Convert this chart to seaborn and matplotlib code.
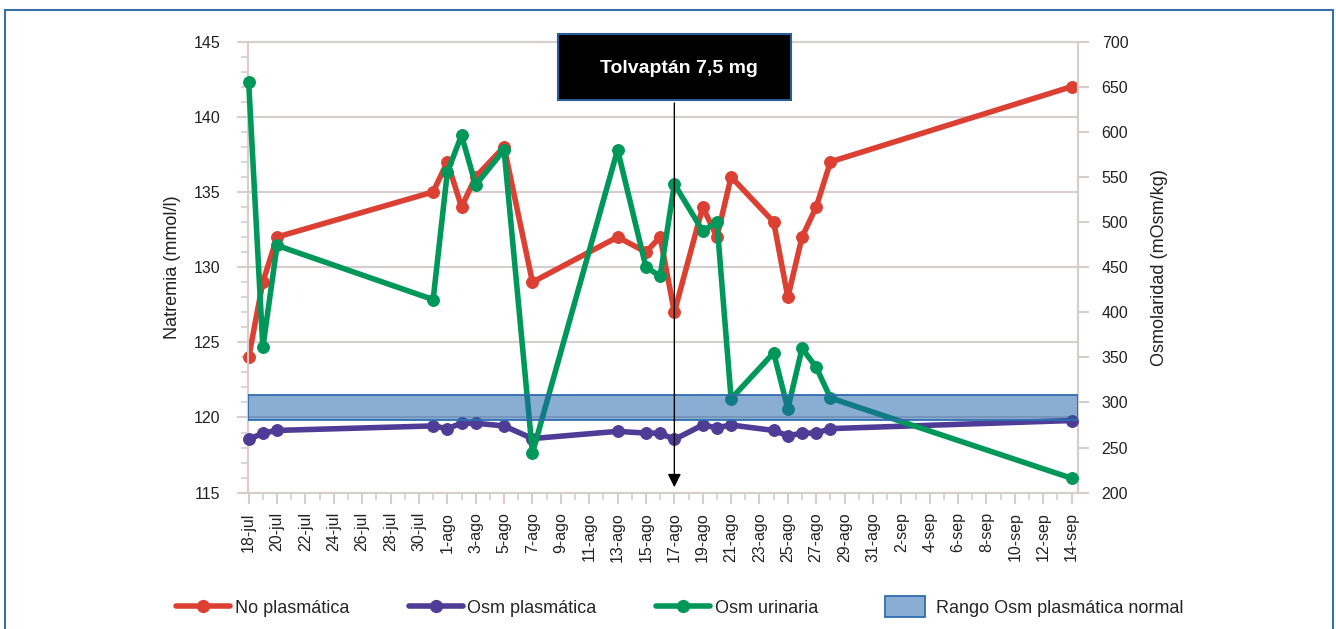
import matplotlib
matplotlib.use('Agg')
import matplotlib.pyplot as plt
import seaborn as sns
import numpy as np
import pandas as pd
from matplotlib.patches import Rectangle, Patch
from matplotlib.lines import Line2D
from matplotlib.legend_handler import HandlerPatch
from matplotlib.ticker import MultipleLocator

sns.set_style('white')
plt.rcParams['font.family'] = ['Liberation Sans', 'DejaVu Sans']

# datos
fechas = ['2015-07-18', '2015-07-19', '2015-07-20', '2015-07-31', '2015-08-01', '2015-08-02',
          '2015-08-03', '2015-08-05', '2015-08-07', '2015-08-13', '2015-08-15', '2015-08-16',
          '2015-08-17', '2015-08-19', '2015-08-20', '2015-08-21', '2015-08-24', '2015-08-25',
          '2015-08-26', '2015-08-27', '2015-08-28', '2015-09-14']
natremia = [124, 129, 132, 135, 137, 134, 136, 138, 129, 132, 131, 132, 127, 134, 132, 136,
            133, 128, 132, 134, 137, 142]
osm_plasma = [259, 266, 269, 274, 271, 277, 277, 274, 260, 268, 266, 266, 259, 275, 272, 275,
              269, 263, 266, 266, 271, 280]
osm_orina = [655, 361, 474, 414, 555, 596, 541, 580, 244, 580, 450, 440, 542, 490, 500, 304,
             355, 293, 360, 339, 305, 216]
rango_osm = [281, 308]
fecha_tolvaptan = '2015-08-17'
meses = {7: 'jul', 8: 'ago', 9: 'sep'}

rojo = '#dc4032'
morado = '#4f3c96'
verde = '#00975b'
gris = '#d6cdcd'
azul_rango = (0.12, 0.39, 0.67, 0.52)

fechas = pd.to_datetime(fechas)
inicio = fechas.min()
dias = np.array((fechas - inicio).days)
dia_tolva = (pd.Timestamp(fecha_tolvaptan) - inicio).days

fig = plt.figure(figsize=(13.36, 6.29), dpi=100)
ax = fig.add_axes([0.1856, 0.2167, 0.6213, 0.7173])
ax2 = ax.twinx()

#Natremia (eje izquierdo)
sns.lineplot(x=dias, y=natremia, ax=ax, color=rojo, marker='o', lw=4, markersize=8.5,
             markeredgecolor=rojo, clip_on=False, label='No plasmática')
#Osmolaridades (eje derecho)
sns.lineplot(x=dias, y=osm_plasma, ax=ax2, color=morado, marker='o', lw=4, markersize=8.5,
             markeredgecolor=morado, clip_on=False, label='Osm plasmática', zorder=3)
sns.lineplot(x=dias, y=osm_orina, ax=ax2, color=verde, marker='o', lw=4, markersize=8.5,
             markeredgecolor=verde, clip_on=False, label='Osm urinaria', zorder=3)
ax2.axhspan(rango_osm[0], rango_osm[1], facecolor=azul_rango,
            edgecolor='#2f6db0', lw=1.3, zorder=4)

for a in (ax, ax2):
    if a.get_legend() is not None:
        a.get_legend().remove()

# ejes
ax.set_xlim(-0.05, 58.45)
ax.set_ylim(115, 145)
ax2.set_ylim(200, 700)
ticks = pd.date_range(inicio, fechas.max(), freq='2D')
ax.set_xticks((ticks - inicio).days)
ax.set_xticklabels([f'{t.day}-{meses[t.month]}' for t in ticks], rotation=90)
ax.xaxis.set_minor_locator(MultipleLocator(1))
ax.yaxis.set_major_locator(MultipleLocator(5))
ax.yaxis.set_minor_locator(MultipleLocator(1))
ax2.yaxis.set_major_locator(MultipleLocator(50))

ax.yaxis.grid(True, color=gris, lw=1.5)
ax.set_axisbelow(True)
for s in ax.spines.values():
    s.set_color(gris)
    s.set_linewidth(1.5)
for s in ax2.spines.values():
    s.set_visible(False)
ax2.spines['right'].set_visible(True)
ax2.spines['right'].set_color(gris)
ax2.spines['right'].set_linewidth(1.5)

ax.tick_params(axis='both', which='major', direction='out', length=8, width=1.5, color=gris,
               labelsize=11.5, labelcolor='#222222')
ax.tick_params(axis='both', which='minor', direction='out', length=5, width=1.2, color=gris)
ax.tick_params(axis='y', which='major', pad=12)
ax.tick_params(axis='x', which='major', pad=6)
ax.tick_params(bottom=True, left=True)
ax.tick_params(axis='x', which='minor', bottom=True)
ax.tick_params(axis='y', which='minor', left=True)
ax2.tick_params(axis='y', direction='out', length=8, width=1.5, color=gris, labelsize=11.5,
                labelcolor='#222222', pad=9, right=True)

ax.set_ylabel('Natremia (mmol/l)', fontsize=13, labelpad=9, color='#222222')
ax2.set_ylabel('Osmolaridad (mOsm/kg)', fontsize=13, labelpad=16, color='#222222')
ax.set_xlabel('')

# Tolvaptan
ax2.annotate('', xy=(dia_tolva, 203), xytext=(dia_tolva, 635),
             arrowprops=dict(arrowstyle='-|>', color='black', lw=1.0, mutation_scale=20),
             annotation_clip=False, zorder=6)
ax2.add_patch(Rectangle((dia_tolva - 8.2, 635), 16.4, 73, facecolor='black',
                        edgecolor='#2a5d94', lw=1.5, clip_on=False, zorder=6))
ax2.text(dia_tolva + 0.35, 670, 'Tolvaptán 7,5 mg', color='white', fontsize=14,
         fontweight='bold', ha='center', va='center', zorder=7, clip_on=False)


# leyenda
def caja(legend, orig_handle, xdescent, ydescent, width, height, fontsize):
    return Rectangle((-xdescent + 0.13 * width, -ydescent - 0.35 * height),
                     0.74 * width, 1.7 * height)


handles = [
    Line2D([0], [0], color=rojo, lw=4, marker='o', markersize=8.5),
    Line2D([0], [0], color=morado, lw=4, marker='o', markersize=8.5),
    Line2D([0], [0], color=verde, lw=4, marker='o', markersize=8.5),
    Patch(facecolor=azul_rango, edgecolor='#2f6db0', lw=1.3),
]
labels = ['No plasmática', 'Osm plasmática', 'Osm urinaria', 'Rango Osm plasmática normal']
fig.legend(handles, labels, loc='center', bbox_to_anchor=(0.509, 0.033), ncol=4,
           frameon=False, fontsize=13, handlelength=3.0, columnspacing=3.3,
           handletextpad=0.25, handler_map={Patch: HandlerPatch(patch_func=caja)})

# marco
fig.add_artist(Rectangle((5 / 1336, -0.1), 1328 / 1336, 0.1 + 619 / 629, fill=False,
                         edgecolor='#3a6eaa', lw=1.5, transform=fig.transFigure))

fig.savefig('out.png', dpi=100)
